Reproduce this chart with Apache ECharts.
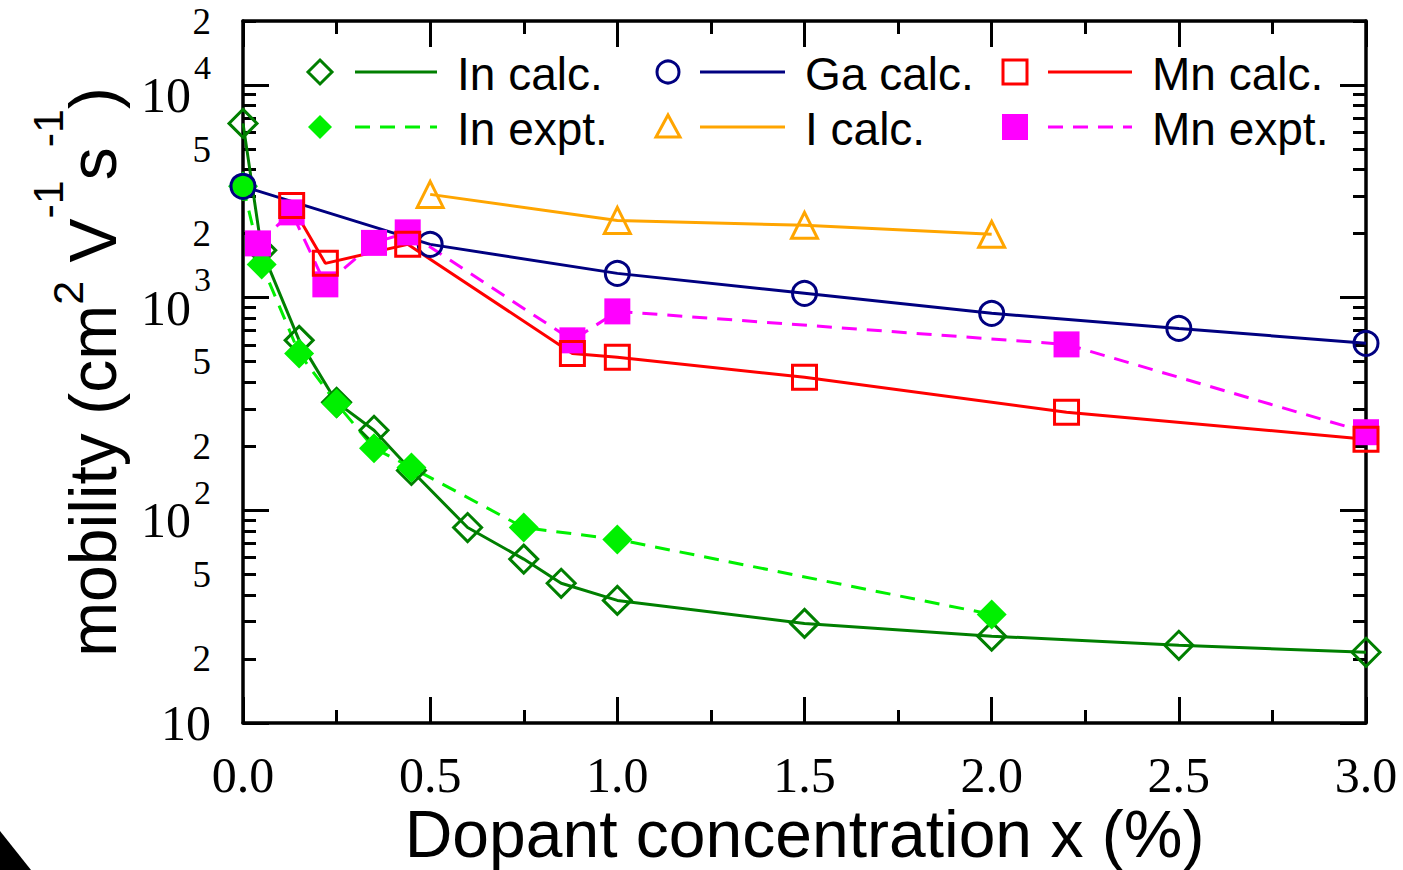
<!DOCTYPE html>
<html>
<head>
<meta charset="utf-8">
<script src="https://cdn.jsdelivr.net/npm/echarts@6/dist/echarts.min.js"></script>
<style>
html,body{margin:0;padding:0;background:#fff;}
#chart{width:1403px;height:870px;}
</style>
</head>
<body>
<div id="chart"></div>
<script>
// ---------------- data ----------------
const inCalcX  = [0, 0.05, 0.15, 0.25, 0.35, 0.45, 0.6, 0.75, 0.85, 1.0, 1.5, 2.0, 2.5, 3.0];
const inCalcY  = [6600, 1670, 630, 322, 238, 154, 83, 59, 45.4, 37.7, 29.4, 25.6, 23.2, 21.5];
const inExptX  = [0, 0.05, 0.15, 0.25, 0.35, 0.45, 0.75, 1.0, 2.0];
const inExptY  = [3340, 1434, 547, 318, 196, 159, 83, 73, 32.4];
const gaCalcX  = [0, 0.5, 1.0, 1.5, 2.0, 2.5, 3.0];
const gaCalcY  = [3340, 1781, 1301, 1048, 844, 717, 610];
const iCalcX   = [0.5, 1.0, 1.5, 2.0];
const iCalcY   = [3060, 2309, 2188, 1985];
const mnCalcX  = [0.13, 0.22, 0.44, 0.88, 1.0, 1.5, 2.2, 3.0];
const mnCalcY  = [2716, 1450, 1781, 547, 524, 422, 289, 216];
const mnExptX  = [0.04, 0.13, 0.22, 0.35, 0.44, 0.88, 1.0, 2.2, 3.0];
const mnExptY  = [1800, 2518, 1155, 1810, 2028, 630, 862, 603, 233];

const seriesNames = ['In calc.', 'In expt.', 'Ga calc.', 'I calc.', 'Mn calc.', 'Mn expt.'];
const yMajorTicks = [10, 100, 1000, 10000];
const yLabelValues = [10, 20, 50, 100, 200, 500, 1000, 2000, 5000, 10000, 20000];
const yLabelTexts  = ['10', '2', '5', '10^2', '2', '5', '10^3', '2', '5', '10^4', '2'];
const yMinorTicks = [];
[10, 100, 1000].forEach(d => { for (let k = 2; k <= 9; k++) yMinorTicks.push(k * d); });
yMinorTicks.push(20000);
const xMin = 0, xMax = 3, xInterval = 0.5;
const yMin = 10, yMax = 20000;

const pairs = (xs, ys) => xs.map((x, i) => [x, ys[i]]);

// ---------------- chart ----------------
const chart = echarts.init(document.getElementById('chart'), null, {renderer: 'svg'});

const SERIF = '"Liberation Serif", "DejaVu Serif", serif';
const SANS = '"Liberation Sans", Arial, Helvetica, sans-serif';
const AXW = 3.5, TKW = 3;

function yLabelFormatter(v) {
  const r = Math.round(v);
  const i = yLabelValues.findIndex(t => Math.abs(t - r) / t < 1e-6);
  if (i < 0) return '';
  const t = yLabelTexts[i];
  if (t.indexOf('^') >= 0) {
    const p = t.split('^');
    return '{b|' + p[0] + '}{s|' + p[1] + '}';
  }
  if (t === '10') return '{c|10}';
  return '{m|' + t + '}';
}

const gridRect = {left: 243, right: 37, top: 21, bottom: 147, containLabel: false, outerBoundsMode: 'none'};

const xBase = {
  type: 'value', min: xMin, max: xMax, interval: xInterval,
  axisLine: {show: true, onZero: false, lineStyle: {color: '#000', width: AXW}},
  axisTick: {show: true, inside: true, length: 26, lineStyle: {color: '#000', width: TKW}},
  minorTick: {show: true, splitNumber: 2, length: 13, lineStyle: {color: '#000', width: TKW}},
  splitLine: {show: false}, minorSplitLine: {show: false}
};

const yBase = {
  type: 'log', logBase: 10, min: yMin, max: yMax,
  splitLine: {show: false}, minorSplitLine: {show: false}
};

const option = {
  backgroundColor: '#fff',
  animation: false,
  grid: [Object.assign({}, gridRect), Object.assign({}, gridRect)],
  xAxis: [
    Object.assign({}, xBase, {
      gridIndex: 0, position: 'bottom',
      axisLabel: {show: true, margin: 30, fontFamily: SERIF, fontSize: 50, lineHeight: 44, color: '#000',
        formatter: v => v.toFixed(1)},
      name: 'Dopant concentration x (%)', nameLocation: 'middle', nameGap: 86, nameMoveOverlap: false,
      nameTextStyle: {fontFamily: SANS, fontSize: 66, lineHeight: 50, color: '#000'}
    }),
    Object.assign({}, xBase, {gridIndex: 0, position: 'top', axisLabel: {show: false}}),
    {type: 'value', gridIndex: 1, min: xMin, max: xMax, show: false}
  ],
  yAxis: [
    Object.assign({}, yBase, {
      gridIndex: 0, position: 'left',
      axisLine: {show: true, onZero: false, lineStyle: {color: '#000', width: AXW}},
      axisTick: {show: true, inside: true, length: 26, customValues: yMajorTicks, lineStyle: {color: '#000', width: TKW}},
      axisLabel: {
        show: true, margin: 32, customValues: yLabelValues, color: '#000', fontFamily: SERIF,
        formatter: yLabelFormatter,
        rich: {
          c: {fontFamily: SERIF, fontSize: 50, color: '#000'},
          b: {fontFamily: SERIF, fontSize: 50, color: '#000', lineHeight: 70, verticalAlign: 'bottom'},
          s: {fontFamily: SERIF, fontSize: 34, color: '#000', verticalAlign: 'top', padding: [0, 0, 0, 3]},
          m: {fontFamily: SERIF, fontSize: 37, color: '#000'}
        }
      },
      name: '{t|mobility (cm}{u2|2}{t| V}{u1|-1}{t|s}{u1|-1}{t|)}',
      nameLocation: 'middle', nameGap: 117,
      nameTextStyle: {
        fontFamily: SANS, fontSize: 66, color: '#000',
        rich: {
          t: {fontFamily: SANS, fontSize: 66, color: '#000', lineHeight: 100, verticalAlign: 'bottom'},
          u1: {fontFamily: SANS, fontSize: 43, color: '#000', verticalAlign: 'top'},
          u2: {fontFamily: SANS, fontSize: 43, color: '#000', verticalAlign: 'top', padding: [20, 0, 0, 0]}
        }
      }
    }),
    Object.assign({}, yBase, {
      gridIndex: 0, position: 'right',
      axisLine: {show: true, onZero: false, lineStyle: {color: '#000', width: AXW}},
      axisTick: {show: true, inside: true, length: 26, customValues: yMajorTicks, lineStyle: {color: '#000', width: TKW}},
      axisLabel: {show: false}
    }),
    Object.assign({}, yBase, {
      gridIndex: 1, position: 'left',
      axisLine: {show: false, onZero: false},
      axisTick: {show: true, inside: true, length: 13, customValues: yMinorTicks, lineStyle: {color: '#000', width: TKW}},
      axisLabel: {show: false}
    }),
    Object.assign({}, yBase, {
      gridIndex: 1, position: 'right',
      axisLine: {show: false, onZero: false},
      axisTick: {show: true, inside: true, length: 13, customValues: yMinorTicks, lineStyle: {color: '#000', width: TKW}},
      axisLabel: {show: false}
    })
  ],
  series: [
    {
      name: seriesNames[0], type: 'line', xAxisIndex: 0, yAxisIndex: 0,
      data: pairs(inCalcX, inCalcY),
      symbol: 'diamond', symbolSize: 28, showAllSymbol: true,
      lineStyle: {color: '#007f00', width: 3},
      itemStyle: {color: 'rgba(255,255,255,0)', borderColor: '#007f00', borderWidth: 3}
    },
    {
      name: seriesNames[1], type: 'line', xAxisIndex: 0, yAxisIndex: 0,
      data: pairs(inExptX, inExptY),
      symbol: 'diamond', symbolSize: 30, showAllSymbol: true,
      lineStyle: {color: '#00f000', width: 3, type: [15, 10]},
      itemStyle: {color: '#00f000', borderWidth: 0}
    },
    {
      name: seriesNames[2], type: 'line', xAxisIndex: 0, yAxisIndex: 0,
      data: pairs(gaCalcX, gaCalcY),
      symbol: 'circle', symbolSize: 24, showAllSymbol: true,
      lineStyle: {color: '#000080', width: 3},
      itemStyle: {color: 'rgba(255,255,255,0)', borderColor: '#000080', borderWidth: 3}
    },
    {
      name: seriesNames[3], type: 'line', xAxisIndex: 0, yAxisIndex: 0,
      data: pairs(iCalcX, iCalcY),
      symbol: 'triangle', symbolSize: 26, showAllSymbol: true,
      lineStyle: {color: '#ffa500', width: 3},
      itemStyle: {color: 'rgba(255,255,255,0)', borderColor: '#ffa500', borderWidth: 3}
    },
    {
      name: seriesNames[5], type: 'line', xAxisIndex: 0, yAxisIndex: 0,
      data: pairs(mnExptX, mnExptY),
      symbol: 'rect', symbolSize: 26, showAllSymbol: true,
      lineStyle: {color: '#ff00ff', width: 3, type: [15, 10]},
      itemStyle: {color: '#ff00ff', borderWidth: 0}
    },
    {
      name: seriesNames[4], type: 'line', xAxisIndex: 0, yAxisIndex: 0,
      data: pairs(mnCalcX, mnCalcY),
      symbol: 'rect', symbolSize: 24, showAllSymbol: true,
      lineStyle: {color: '#ff0000', width: 3},
      itemStyle: {color: 'rgba(255,255,255,0)', borderColor: '#ff0000', borderWidth: 3}
    }
  ]
};

// ---------------- hand-made legend (marker, line sample, label) ----------------
const legendRows = [72, 127];
const legendCols = [{m: 320, l0: 355, l1: 437, t: 457}, {m: 668, l0: 700, l1: 785, t: 805}, {m: 1015, l0: 1048, l1: 1132, t: 1152}];
const legendItems = [
  {name: seriesNames[0], row: 0, col: 0, shape: 'diamond', fill: false, color: '#007f00', dash: false},
  {name: seriesNames[1], row: 1, col: 0, shape: 'diamond', fill: true,  color: '#00f000', dash: true},
  {name: seriesNames[2], row: 0, col: 1, shape: 'circle',  fill: false, color: '#000080', dash: false},
  {name: seriesNames[3], row: 1, col: 1, shape: 'triangle',fill: false, color: '#ffa500', dash: false},
  {name: seriesNames[4], row: 0, col: 2, shape: 'rect',    fill: false, color: '#ff0000', dash: false},
  {name: seriesNames[5], row: 1, col: 2, shape: 'rect',    fill: true,  color: '#ff00ff', dash: true}
];
const graphics = [];
legendItems.forEach(it => {
  const y = legendRows[it.row], c = legendCols[it.col];
  const st = it.fill ? {fill: it.color, stroke: null} : {fill: 'none', stroke: it.color, lineWidth: 3};
  if (it.shape === 'diamond') {
    const h = 12;
    graphics.push({type: 'polygon', shape: {points: [[c.m, y - h], [c.m + h, y], [c.m, y + h], [c.m - h, y]]}, style: st});
  } else if (it.shape === 'circle') {
    graphics.push({type: 'circle', shape: {cx: c.m, cy: y, r: 11}, style: st});
  } else if (it.shape === 'triangle') {
    graphics.push({type: 'polygon', shape: {points: [[c.m, y - 12], [c.m + 12, y + 10], [c.m - 12, y + 10]]}, style: st});
  } else {
    const s = it.fill ? 26 : 24;
    graphics.push({type: 'rect', shape: {x: c.m - s / 2, y: y - s / 2, width: s, height: s}, style: st});
  }
  graphics.push({type: 'line', shape: {x1: c.l0, y1: y, x2: c.l1, y2: y},
    style: {stroke: it.color, lineWidth: 3, lineDash: it.dash ? [15, 10] : null}});
  graphics.push({type: 'text', x: c.t, y: y + 2,
    style: {text: it.name, font: '46px ' + SANS, fill: '#000', textAlign: 'left', textVerticalAlign: 'middle'}});
});
// dark corner triangle at the bottom-left edge of the picture
graphics.push({type: 'polygon', shape: {points: [[0, 831], [31, 870], [0, 870]]}, style: {fill: '#000'}});
option.graphic = graphics;

chart.setOption(option);
</script>
</body>
</html>
